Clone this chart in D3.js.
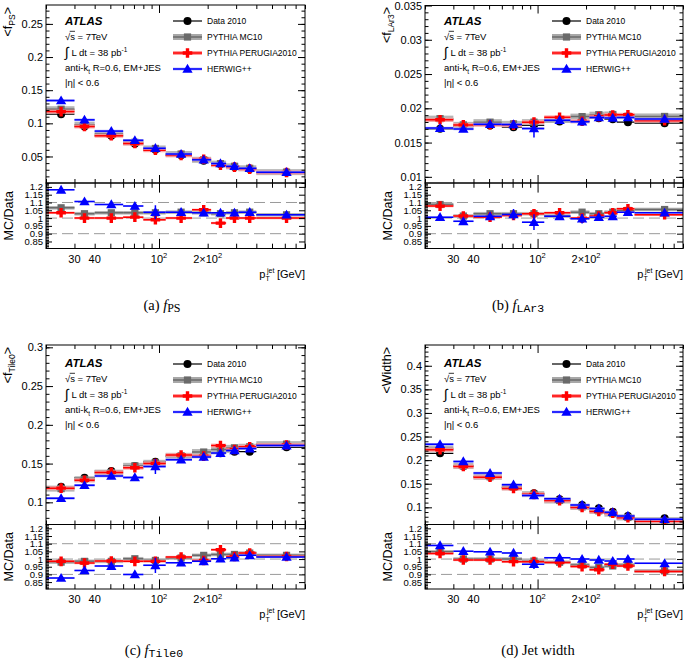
<!DOCTYPE html>
<html><head><meta charset="utf-8">
<script src="https://cdn.jsdelivr.net/npm/d3@7"></script>
<style>
body{margin:0;background:#fff;}
svg{display:block;}
</style></head><body>
<svg id="c" width="685" height="661"></svg>
<script>
// ---------------- DATA ----------------
const binEdges   = [20, 30, 40, 60, 80, 110, 160, 210, 260, 310, 400, 800];
const binMeanPt  = [24.8, 34.6, 50.7, 70.9, 95, 137, 189, 240, 293, 364, 615];
const xMinorTicks = [20, 30, 40, 50, 60, 70, 80, 90, 200, 300, 400, 500, 600, 700, 800];
const xMajorTicks = [100];
const xTickLabels = [
  {v: 30, base: "30", sup: ""},
  {v: 40, base: "40", sup: ""},
  {v: 100, base: "10", sup: "2"},
  {v: 200, base: "2×10", sup: "2"}
];
const seriesNames = ["Data 2010", "PYTHIA MC10", "PYTHIA PERUGIA2010", "HERWIG++"];
const ratioTicks = [0.85, 0.9, 0.95, 1, 1.05, 1.1, 1.15, 1.2];
const ratioRefLines = [0.9, 1.0, 1.1];

// (a) f_PS
const fpsTicks    = [0.05, 0.1, 0.15, 0.2, 0.25];
const fpsData     = [0.1138, 0.0952, 0.0812, 0.0691, 0.0601, 0.0517, 0.0435, 0.0381, 0.0340, 0.0310, 0.0259];
const fpsMC10     = [0.1213, 0.0979, 0.0840, 0.0714, 0.0621, 0.0537, 0.0450, 0.0392, 0.0352, 0.0322, 0.0264];
const fpsPerugia  = [0.1177, 0.0952, 0.0812, 0.0695, 0.0594, 0.0517, 0.0458, 0.0369, 0.0340, 0.0310, 0.0259];
const fpsHerwig   = [0.1344, 0.1053, 0.0883, 0.0744, 0.0624, 0.0537, 0.0450, 0.0394, 0.0352, 0.0322, 0.0264];
const fpsHerwigErr = [0, 0, 0, 0, 0.0025, 0, 0, 0, 0, 0, 0];
const fpsRatioMC10    = [1.066, 1.028, 1.034, 1.034, 1.034, 1.038, 1.034, 1.028, 1.034, 1.038, 1.021];
const fpsRatioPerugia = [1.034, 1.000, 1.000, 1.006, 0.989, 1.000, 1.053, 0.968, 1.000, 1.000, 1.000];
const fpsRatioHerwig  = [1.181, 1.106, 1.087, 1.077, 1.038, 1.038, 1.034, 1.034, 1.034, 1.038, 1.021];
const fpsRatioHerwigErr = [0, 0, 0, 0, 0.045, 0, 0, 0, 0, 0, 0];

// (b) f_LAr3
const lar3Ticks   = [0.01, 0.015, 0.02, 0.025, 0.03, 0.035];
const lar3Data    = [0.01701, 0.01735, 0.01749, 0.01725, 0.01749, 0.01807, 0.01810, 0.01855, 0.01840, 0.01797, 0.01783];
const lar3MC10    = [0.01849, 0.01758, 0.01798, 0.01773, 0.01798, 0.01830, 0.01879, 0.01907, 0.01910, 0.01885, 0.01881];
const lar3Perugia = [0.01832, 0.01758, 0.01759, 0.01754, 0.01798, 0.01868, 0.01810, 0.01879, 0.01903, 0.01905, 0.01820];
const lar3Herwig  = [0.01711, 0.01699, 0.01768, 0.01765, 0.01704, 0.01827, 0.01803, 0.01866, 0.01860, 0.01865, 0.01844];
const lar3HerwigErr = [0, 0, 0, 0.0006, 0.0013, 0, 0.0005, 0, 0, 0, 0];
const lar3RatioMC10    = [1.087, 1.013, 1.028, 1.028, 1.028, 1.013, 1.038, 1.028, 1.038, 1.049, 1.055];
const lar3RatioPerugia = [1.077, 1.013, 1.006, 1.017, 1.028, 1.034, 1.000, 1.013, 1.034, 1.060, 1.021];
const lar3RatioHerwig  = [1.006, 0.979, 1.011, 1.023, 0.974, 1.011, 0.996, 1.006, 1.011, 1.038, 1.034];
const lar3RatioHerwigErr = [0, 0, 0, 0.035, 0.05, 0, 0.03, 0, 0, 0, 0];

// (c) f_Tile0
const tile0Ticks   = [0.1, 0.15, 0.2, 0.25, 0.3];
const tile0Data    = [0.1201, 0.1318, 0.1404, 0.1468, 0.1524, 0.1589, 0.1610, 0.1632, 0.1653, 0.1653, 0.1710];
const tile0MC10    = [0.1177, 0.1298, 0.1383, 0.1471, 0.1510, 0.1600, 0.1649, 0.1681, 0.1703, 0.1717, 0.1751];
const tile0Perugia = [0.1183, 0.1284, 0.1386, 0.1446, 0.1501, 0.1610, 0.1596, 0.1732, 0.1681, 0.1717, 0.1739];
const tile0Herwig  = [0.1052, 0.1220, 0.1339, 0.1321, 0.1462, 0.1551, 0.1586, 0.1635, 0.1668, 0.1693, 0.1732];
const tile0HerwigErr = [0, 0, 0, 0, 0.0097, 0, 0, 0, 0, 0, 0];
const tile0RatioMC10    = [0.980, 0.985, 0.985, 1.002, 0.991, 1.007, 1.024, 1.030, 1.030, 1.039, 1.024];
const tile0RatioPerugia = [0.985, 0.974, 0.987, 0.985, 0.985, 1.013, 0.991, 1.061, 1.017, 1.039, 1.017];
const tile0RatioHerwig  = [0.876, 0.926, 0.954, 0.900, 0.959, 0.976, 0.985, 1.002, 1.009, 1.024, 1.013];
const tile0RatioHerwigErr = [0, 0, 0, 0, 0.05, 0, 0, 0, 0, 0, 0];

// (d) Jet width
const widthTicks   = [0.1, 0.15, 0.2, 0.25, 0.3, 0.35, 0.4];
const widthData    = [0.2144, 0.1875, 0.1648, 0.1424, 0.1297, 0.1170, 0.1049, 0.0979, 0.0907, 0.0816, 0.0767];
const widthMC10    = [0.2245, 0.1875, 0.1648, 0.1424, 0.1280, 0.1145, 0.1009, 0.0925, 0.0866, 0.0785, 0.0708];
const widthPerugia = [0.2221, 0.1864, 0.1638, 0.1400, 0.1275, 0.1143, 0.0998, 0.0910, 0.0876, 0.0779, 0.0705];
const widthHerwig  = [0.2335, 0.1971, 0.1725, 0.1481, 0.1253, 0.1181, 0.1049, 0.0973, 0.0895, 0.0816, 0.0746];
const widthHerwigErr = [0, 0, 0, 0, 0.004, 0, 0, 0, 0, 0, 0];
const widthRatioMC10    = [1.047, 1.000, 1.000, 1.000, 0.987, 0.979, 0.962, 0.945, 0.955, 0.962, 0.923];
const widthRatioPerugia = [1.036, 0.994, 0.994, 0.983, 0.983, 0.977, 0.951, 0.930, 0.966, 0.955, 0.919];
const widthRatioHerwig  = [1.089, 1.051, 1.047, 1.040, 0.966, 1.009, 1.000, 0.994, 0.987, 1.000, 0.972];
const widthRatioHerwigErr = [0, 0, 0, 0, 0.03, 0, 0, 0, 0, 0, 0];

// ---------------- LAYOUT / STYLE ----------------
const SANS = '"Liberation Sans", Arial, Helvetica, sans-serif';
const SERIF = '"Liberation Serif", "Times New Roman", serif';
const MONO = '"Liberation Mono", "DejaVu Sans Mono", monospace';
const xDomain = [20, 800];
const ratioDomain = [0.805, 1.225];

const seriesStyle = [
  {color: "#000000", band: null, bandH: 0, marker: "circle", lw: 1.2},
  {color: "#6a6a6a", band: "#a8a8a8", bandH: 3.0, marker: "square", lw: 1.5},
  {color: "#ff0000", band: "#ff9c9c", bandH: 2.0, marker: "plus", lw: 1.5},
  {color: "#0000ff", band: "#a0a0ff", bandH: 1.3, marker: "triangle", lw: 1.5}
];

const panels = [
  {key: "a", left: 46, right: 305, top: 5, mid: 183, bottom: 248.5, domain: [0.01, 0.2785], ticks: fpsTicks, minorStep: 0.01,
   series: [fpsData, fpsMC10, fpsPerugia, fpsHerwig], herwigErr: fpsHerwigErr,
   ratios: [fpsRatioMC10, fpsRatioPerugia, fpsRatioHerwig], ratioHerwigErr: fpsRatioHerwigErr,
   ylab: ["<f", "PS", ">"], ylabTop: 7, atlasY: 25, legendY: [21, 37, 53, 69],
   cap: {x: 162, y: 309.5, letter: "(a) ", sub: "PS", subFont: "serif"}},
  {key: "b", left: 425, right: 683, top: 5.5, mid: 183, bottom: 248.5, domain: [0.0091, 0.035], ticks: lar3Ticks, minorStep: 0.001,
   series: [lar3Data, lar3MC10, lar3Perugia, lar3Herwig], herwigErr: lar3HerwigErr,
   ratios: [lar3RatioMC10, lar3RatioPerugia, lar3RatioHerwig], ratioHerwigErr: lar3RatioHerwigErr,
   ylab: ["<f", "LAr3", ">"], ylabTop: 7, atlasY: 25, legendY: [21, 37, 53, 69],
   cap: {x: 518, y: 309.5, letter: "(b) ", sub: "LAr3", subFont: "mono"}},
  {key: "c", left: 46, right: 305, top: 345, mid: 524.5, bottom: 589, domain: [0.0714, 0.303], ticks: tile0Ticks, minorStep: 0.01,
   series: [tile0Data, tile0MC10, tile0Perugia, tile0Herwig], herwigErr: tile0HerwigErr,
   ratios: [tile0RatioMC10, tile0RatioPerugia, tile0RatioHerwig], ratioHerwigErr: tile0RatioHerwigErr,
   ylab: ["<f", "Tile0", ">"], ylabTop: 347, atlasY: 367, legendY: [364, 380, 396, 412],
   cap: {x: 154, y: 655, letter: "(c) ", sub: "Tile0", subFont: "mono"}},
  {key: "d", left: 425, right: 683, top: 345, mid: 524.5, bottom: 589, domain: [0.0636, 0.444], ticks: widthTicks, minorStep: 0.01,
   series: [widthData, widthMC10, widthPerugia, widthHerwig], herwigErr: widthHerwigErr,
   ratios: [widthRatioMC10, widthRatioPerugia, widthRatioHerwig], ratioHerwigErr: widthRatioHerwigErr,
   ylab: ["<Width>", "", ""], ylabTop: 347, atlasY: 367, legendY: [364, 380, 396, 412],
   cap: {x: 538, y: 655, letter: "(d) Jet width", sub: "", subFont: ""}}
];

const svg = d3.select("#c");
const fmt = d => String(+(+d).toFixed(3));

function drawMarker(g, type, cx, cy) {
  if (type === "circle") {
    g.append("circle").attr("cx", cx).attr("cy", cy).attr("r", 4).attr("fill", "#000");
  } else if (type === "square") {
    g.append("rect").attr("x", cx - 3.6).attr("y", cy - 3.6).attr("width", 7.2).attr("height", 7.2).attr("fill", "#6a6a6a");
  } else if (type === "plus") {
    const a = 4.8, t = 1.7;
    g.append("path").attr("fill", "#ff0000")
      .attr("d", `M${cx - t},${cy - a}H${cx + t}V${cy - t}H${cx + a}V${cy + t}H${cx + t}V${cy + a}H${cx - t}V${cy + t}H${cx - a}V${cy - t}H${cx - t}Z`);
  } else {
    g.append("path").attr("fill", "#0000ff")
      .attr("transform", `translate(${cx},${cy + 0.8})`)
      .attr("d", d3.symbol().type(d3.symbolTriangle).size(46)());
  }
}

function styleAxis(sel, fs) {
  sel.attr("font-family", SANS).attr("font-size", fs);
  sel.select(".domain").remove();
  sel.selectAll("line").attr("stroke", "#000").attr("stroke-width", 1);
  sel.selectAll("text").attr("fill", "#000");
}

let clipId = 0;
panels.forEach(p => {
  const g = svg.append("g");
  const x = d3.scaleLog().domain(xDomain).range([p.left, p.right]);
  const yM = d3.scaleLinear().domain(p.domain).range([p.mid, p.top]);
  const yR = d3.scaleLinear().domain(ratioDomain).range([p.bottom, p.mid]);

  const cm = "clip" + (clipId++), cr = "clip" + (clipId++);
  const defs = svg.append("defs");
  defs.append("clipPath").attr("id", cm).append("rect")
    .attr("x", p.left).attr("y", p.top).attr("width", p.right - p.left).attr("height", p.mid - p.top);
  defs.append("clipPath").attr("id", cr).append("rect")
    .attr("x", p.left).attr("y", p.mid).attr("width", p.right - p.left).attr("height", p.bottom - p.mid);

  // ratio reference lines
  const gr = g.append("g").attr("clip-path", `url(#${cr})`);
  gr.selectAll("line.ref").data(ratioRefLines).join("line")
    .attr("x1", p.left).attr("x2", p.right)
    .attr("y1", d => yR(d)).attr("y2", d => yR(d))
    .attr("stroke", "#9a9a9a").attr("stroke-width", 1).attr("stroke-dasharray", "11,5");

  // main histograms
  const gm = g.append("g").attr("clip-path", `url(#${cm})`);
  p.series.forEach((vals, si) => {
    const st = seriesStyle[si];
    const sg = gm.append("g");
    vals.forEach((v, i) => {
      const x0 = x(binEdges[i]), x1 = x(binEdges[i + 1]), yy = yM(v);
      if (st.band) sg.append("rect").attr("x", x0).attr("y", yy - st.bandH).attr("width", x1 - x0)
        .attr("height", 2 * st.bandH).attr("fill", st.band).attr("opacity", 0.85);
      sg.append("line").attr("x1", x0).attr("x2", x1).attr("y1", yy).attr("y2", yy)
        .attr("stroke", st.color).attr("stroke-width", st.lw);
      if (si === 3 && p.herwigErr[i] > 0) {
        sg.append("line").attr("x1", x(binMeanPt[i])).attr("x2", x(binMeanPt[i]))
          .attr("y1", yM(v - p.herwigErr[i])).attr("y2", yM(v + p.herwigErr[i]))
          .attr("stroke", st.color).attr("stroke-width", 1.5);
      }
      drawMarker(sg, st.marker, x(binMeanPt[i]), yy);
    });
  });

  // ratio histograms
  p.ratios.forEach((vals, ri) => {
    const st = seriesStyle[ri + 1];
    const sg = gr.append("g");
    vals.forEach((v, i) => {
      const x0 = x(binEdges[i]), x1 = x(binEdges[i + 1]), yy = yR(v);
      if (st.band) sg.append("rect").attr("x", x0).attr("y", yy - st.bandH * 0.6).attr("width", x1 - x0)
        .attr("height", 1.2 * st.bandH).attr("fill", st.band).attr("opacity", 0.85);
      sg.append("line").attr("x1", x0).attr("x2", x1).attr("y1", yy).attr("y2", yy)
        .attr("stroke", st.color).attr("stroke-width", st.lw);
      if (ri === 2 && p.ratioHerwigErr[i] > 0) {
        sg.append("line").attr("x1", x(binMeanPt[i])).attr("x2", x(binMeanPt[i]))
          .attr("y1", yR(v - p.ratioHerwigErr[i])).attr("y2", yR(v + p.ratioHerwigErr[i]))
          .attr("stroke", st.color).attr("stroke-width", 1.5);
      }
      drawMarker(sg, st.marker, x(binMeanPt[i]), yy);
    });
  });

  // frames
  g.append("rect").attr("x", p.left).attr("y", p.top).attr("width", p.right - p.left).attr("height", p.mid - p.top)
    .attr("fill", "none").attr("stroke", "#000").attr("stroke-width", 1);
  g.append("rect").attr("x", p.left).attr("y", p.mid).attr("width", p.right - p.left).attr("height", p.bottom - p.mid)
    .attr("fill", "none").attr("stroke", "#000").attr("stroke-width", 1);

  // y axes (main)
  const minorM = d3.range(Math.ceil(p.domain[0] / p.minorStep - 1e-6) * p.minorStep, p.domain[1], p.minorStep);
  g.append("g").attr("transform", `translate(${p.left},0)`)
    .call(d3.axisLeft(yM).tickValues(p.ticks).tickSizeInner(-7).tickSizeOuter(0).tickPadding(3).tickFormat(fmt))
    .call(s => styleAxis(s, 11));
  g.append("g").attr("transform", `translate(${p.left},0)`)
    .call(d3.axisLeft(yM).tickValues(minorM).tickSizeInner(-3.5).tickSizeOuter(0).tickFormat(""))
    .call(s => styleAxis(s, 11));
  g.append("g").attr("transform", `translate(${p.right},0)`)
    .call(d3.axisRight(yM).tickValues(p.ticks).tickSizeInner(-7).tickSizeOuter(0).tickFormat(""))
    .call(s => styleAxis(s, 11));
  g.append("g").attr("transform", `translate(${p.right},0)`)
    .call(d3.axisRight(yM).tickValues(minorM).tickSizeInner(-3.5).tickSizeOuter(0).tickFormat(""))
    .call(s => styleAxis(s, 11));

  // y axes (ratio)
  const minorR = d3.range(0.81, 1.221, 0.01);
  g.append("g").attr("transform", `translate(${p.left},0)`)
    .call(d3.axisLeft(yR).tickValues(ratioTicks).tickSizeInner(-6).tickSizeOuter(0).tickPadding(3).tickFormat(fmt))
    .call(s => styleAxis(s, 9.5));
  g.append("g").attr("transform", `translate(${p.left},0)`)
    .call(d3.axisLeft(yR).tickValues(minorR).tickSizeInner(-3).tickSizeOuter(0).tickFormat(""))
    .call(s => styleAxis(s, 9.5));
  g.append("g").attr("transform", `translate(${p.right},0)`)
    .call(d3.axisRight(yR).tickValues(ratioTicks).tickSizeInner(-6).tickSizeOuter(0).tickFormat(""))
    .call(s => styleAxis(s, 9.5));

  // x axis ticks
  [[p.mid, "bottom", 1], [p.top, "top", 1], [p.bottom, "bottom", 1.2], [p.mid, "top", 1.2]].forEach(([yy, side, f]) => {
    const maker = side === "bottom" ? d3.axisBottom : d3.axisTop;
    g.append("g").attr("transform", `translate(0,${yy})`)
      .call(maker(x).tickValues(xMajorTicks).tickSizeInner(-8 * f).tickSizeOuter(0).tickFormat(""))
      .call(s => styleAxis(s, 11));
    g.append("g").attr("transform", `translate(0,${yy})`)
      .call(maker(x).tickValues(xMinorTicks).tickSizeInner(-4 * f).tickSizeOuter(0).tickFormat(""))
      .call(s => styleAxis(s, 11));
  });

  // x tick labels
  xTickLabels.forEach(t => {
    const tx = g.append("text").attr("x", x(t.v)).attr("y", p.bottom + 14)
      .attr("text-anchor", "middle").attr("font-family", SANS).attr("font-size", 11);
    tx.append("tspan").text(t.base);
    if (t.sup) tx.append("tspan").attr("font-size", 7.5).attr("dy", -4.5).text(t.sup);
  });

  // x title  p_T^jet [GeV]
  const ty = p.bottom + 29;
  const gev = g.append("text").attr("x", p.right).attr("y", ty).attr("text-anchor", "end")
    .attr("font-family", SANS).attr("font-size", 11).text("[GeV]");
  const wG = gev.node().getComputedTextLength();
  const jetX = p.right - wG - 2.5;
  g.append("text").attr("x", jetX).attr("y", ty - 5).attr("text-anchor", "end")
    .attr("font-family", SANS).attr("font-size", 7).text("jet");
  const jw = 9;
  g.append("text").attr("x", jetX - jw).attr("y", ty + 3.5).attr("text-anchor", "start")
    .attr("font-family", SANS).attr("font-size", 7).text("T");
  g.append("text").attr("x", jetX - jw).attr("y", ty).attr("text-anchor", "end")
    .attr("font-family", SANS).attr("font-size", 11).text("p");

  // y titles
  const yl = g.append("text").attr("transform", `translate(${p.left - 34},${p.ylabTop}) rotate(-90)`)
    .attr("text-anchor", "end").attr("font-family", SANS).attr("font-size", 12.5);
  yl.append("tspan").text(p.ylab[0]);
  if (p.ylab[1]) {
    yl.append("tspan").attr("font-size", 8.5).attr("dy", 3).text(p.ylab[1]);
    yl.append("tspan").attr("dy", -3).text(p.ylab[2]);
  }
  g.append("text").attr("transform", `translate(${p.left - 33},${(p.mid + p.bottom) / 2}) rotate(-90)`)
    .attr("text-anchor", "middle").attr("font-family", SANS).attr("font-size", 12.5).text("MC/Data");

  // ATLAS text block
  const tx0 = p.left + 19;
  g.append("text").attr("x", tx0).attr("y", p.atlasY).attr("font-family", SANS).attr("font-size", 11.5)
    .attr("font-weight", "bold").attr("font-style", "italic").text("ATLAS");
  const fs = 9.5;
  const sq = g.append("text").attr("x", tx0).attr("y", p.atlasY + 14.5).attr("font-family", SANS).attr("font-size", fs);
  sq.append("tspan").text("√");
  sq.append("tspan").text("s = 7TeV");
  const ext = sq.node().getExtentOfChar(1);
  g.append("line").attr("x1", ext.x - 0.5).attr("x2", ext.x + ext.width).attr("y1", p.atlasY + 14.5 - 8.2).attr("y2", p.atlasY + 14.5 - 8.2)
    .attr("stroke", "#000").attr("stroke-width", 0.8);
  const it = g.append("text").attr("x", tx0).attr("y", p.atlasY + 30.5).attr("font-family", SANS).attr("font-size", fs);
  it.append("tspan").attr("font-size", 14).attr("dy", 1.5).text("∫");
  it.append("tspan").attr("dy", -1.5).text(" L dt = 38 pb");
  it.append("tspan").attr("font-size", 6.5).attr("dy", -4).text("-1");
  const ak = g.append("text").attr("x", tx0).attr("y", p.atlasY + 46).attr("font-family", SANS).attr("font-size", fs);
  ak.append("tspan").text("anti-k");
  ak.append("tspan").attr("font-size", 6.5).attr("dy", 2.5).text("t");
  ak.append("tspan").attr("dy", -2.5).text(" R=0.6, EM+JES");
  g.append("text").attr("x", tx0).attr("y", p.atlasY + 60.5).attr("font-family", SANS).attr("font-size", fs)
    .text("|η| < 0.6");

  // legend
  seriesNames.forEach((name, si) => {
    const st = seriesStyle[si];
    const ly = p.legendY[si];
    const lx0 = p.left + 127, lx1 = p.left + 156, lxm = p.left + 141.5;
    if (st.band) g.append("rect").attr("x", lx0).attr("y", ly - st.bandH).attr("width", lx1 - lx0)
      .attr("height", 2 * st.bandH).attr("fill", st.band);
    g.append("line").attr("x1", lx0).attr("x2", lx1).attr("y1", ly).attr("y2", ly)
      .attr("stroke", st.color).attr("stroke-width", st.lw);
    drawMarker(g, st.marker, lxm, ly);
    g.append("text").attr("x", p.left + 161).attr("y", ly + 3).attr("font-family", SANS).attr("font-size", 8.5)
      .text(name);
  });

  // caption
  const cap = g.append("text").attr("x", p.cap.x).attr("y", p.cap.y).attr("text-anchor", "middle")
    .attr("font-family", SERIF).attr("font-size", 14.5);
  cap.append("tspan").text(p.cap.letter);
  if (p.cap.sub) {
    cap.append("tspan").attr("font-style", "italic").text("f");
    cap.append("tspan").attr("dy", 2).attr("font-size", p.cap.subFont === "mono" ? 11.5 : 12)
      .attr("font-family", p.cap.subFont === "mono" ? MONO : SERIF)
      .text(p.cap.sub);
  }
});
</script></body></html>
